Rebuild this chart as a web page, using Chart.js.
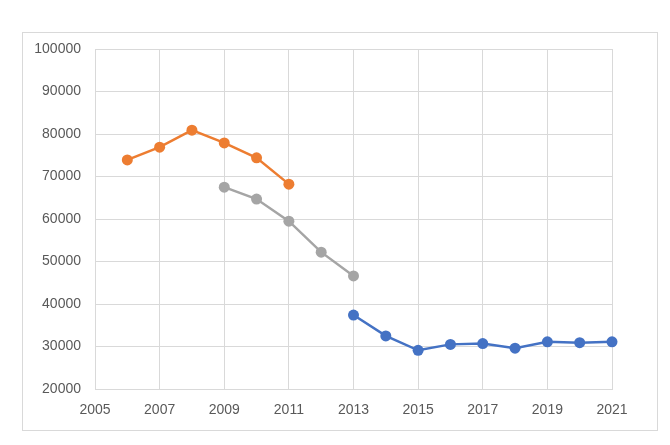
<!DOCTYPE html>
<html>
<head>
<meta charset="utf-8">
<script src="https://cdn.jsdelivr.net/npm/chart.js@4"></script>
<style>
  html, body { margin: 0; padding: 0; background: #fff; }
  #wrap { position: relative; width: 670px; height: 445px; }
  #frame { position: absolute; left: 22px; top: 32px; width: 634px; height: 397px; border: 1px solid #d9d9d9; pointer-events: none; }
  canvas { position: absolute; left: 0; top: 0; }
</style>
</head>
<body>
<div id="wrap">
  <canvas id="c" width="670" height="445"></canvas>
  <div id="frame"></div>
</div>
<script>
const orangeYears = [2006, 2007, 2008, 2009, 2010, 2011];
const orangeValues = [73900, 76900, 80900, 77900, 74400, 68200];
const grayYears = [2009, 2010, 2011, 2012, 2013];
const grayValues = [67500, 64700, 59500, 52200, 46600];
const blueYears = [2013, 2014, 2015, 2016, 2017, 2018, 2019, 2020, 2021];
const blueValues = [37400, 32500, 29100, 30500, 30700, 29600, 31100, 30900, 31100];
const xTicks = [2005, 2007, 2009, 2011, 2013, 2015, 2017, 2019, 2021];
const yTicks = [20000, 30000, 40000, 50000, 60000, 70000, 80000, 90000, 100000];

const pts = (xs, ys) => xs.map((x, i) => ({ x: x, y: ys[i] }));
const FONT = { family: "'Liberation Sans', Arial, sans-serif", size: 14 };

function ds(data, color) {
  return {
    data: data,
    borderColor: color,
    backgroundColor: color,
    borderWidth: 2.5,
    pointRadius: 5.5,
    pointHoverRadius: 5.5,
    pointBorderWidth: 0,
    tension: 0,
    clip: false
  };
}

new Chart(document.getElementById('c'), {
  type: 'line',
  data: {
    datasets: [
      ds(pts(orangeYears, orangeValues), '#ED7D31'),
      ds(pts(grayYears, grayValues), '#A5A5A5'),
      ds(pts(blueYears, blueValues), '#4472C4')
    ]
  },
  options: {
    responsive: false,
    animation: false,
    devicePixelRatio: 1,
    layout: { padding: { top: 49, right: 58, bottom: 0, left: 0 } },
    plugins: { legend: { display: false }, tooltip: { enabled: false } },
    scales: {
      x: {
        type: 'linear',
        min: 2005,
        max: 2021,
        afterBuildTicks: (s) => { s.ticks = xTicks.map(v => ({ value: v })); },
        afterFit: (s) => { s.height = 56; },
        grid: { color: '#d9d9d9', lineWidth: 1, drawTicks: false },
        border: { color: '#d9d9d9' },
        ticks: { color: '#595959', font: FONT, padding: 13, maxRotation: 0, autoSkip: false, callback: (v) => String(v) }
      },
      y: {
        min: 20000,
        max: 100000,
        afterBuildTicks: (s) => { s.ticks = yTicks.map(v => ({ value: v })); },
        afterFit: (s) => { s.width = 95; },
        grid: { color: '#d9d9d9', lineWidth: 1, drawTicks: false },
        border: { color: '#d9d9d9' },
        ticks: { color: '#595959', font: FONT, padding: 14, callback: (v) => String(v) }
      }
    }
  }
});
</script>
</body>
</html>
